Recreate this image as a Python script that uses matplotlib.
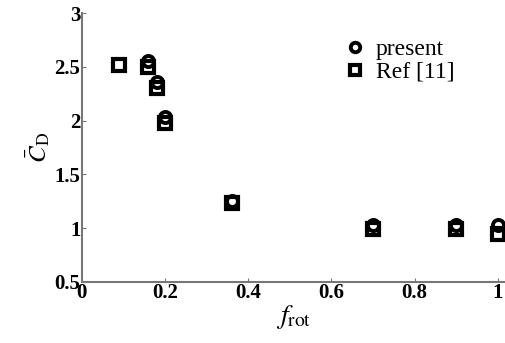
import numpy as np
import matplotlib
matplotlib.use("Agg")
import matplotlib.pyplot as plt

plt.rcParams['font.family'] = ['Liberation Serif', 'DejaVu Serif']
plt.rcParams['mathtext.fontset'] = 'stix'

# data
f_present = [0.16, 0.18, 0.20, 0.36, 0.70, 0.90, 1.00]
cd_present = [2.55, 2.36, 2.03, 1.25, 1.03, 1.03, 1.03]
f_ref = [0.09, 0.16, 0.18, 0.20, 0.36, 0.70, 0.90, 1.00]
cd_ref = [2.52, 2.50, 2.30, 1.98, 1.23, 0.99, 0.99, 0.95]

xticks = [0, 0.2, 0.4, 0.6, 0.8, 1]
xlabels = ['0', '0.2', '0.4', '0.6', '0.8', '1']
yticks = [0.5, 1, 1.5, 2, 2.5, 3]
ylabels = ['0.5', '1', '1.5', '2', '2.5', '3']

fig = plt.figure(figsize=(5.05, 3.43), dpi=100)
ax = fig.add_axes([0.162, 0.178, 0.838, 0.784])

ax.plot(f_present, cd_present, 'o', ms=8, mfc='none', mec='black', mew=2.8,
        label='present', clip_on=False)
ax.plot(f_ref, cd_ref, 's', ms=8, mfc='none', mec='black', mew=3.0,
        label='Ref [11]', clip_on=False)

ax.set_xlim(0, 1.017)
ax.set_ylim(0.5, 3)
ax.set_xticks(xticks)
ax.set_xticklabels(xlabels, fontweight='bold', fontsize=15)
ax.set_yticks(yticks)
ax.set_yticklabels(ylabels, fontweight='bold', fontsize=15)
ax.tick_params(direction='in', length=3, color='#777777', pad=1)

for s in ['top', 'right']:
    ax.spines[s].set_visible(False)
for s in ['left', 'bottom']:
    ax.spines[s].set_color('#777777')
    ax.spines[s].set_linewidth(1.5)

ax.set_xlabel(r'$f_{\mathrm{rot}}$', fontsize=20, labelpad=0)
ax.set_ylabel(r'$\bar{C}_{\mathrm{D}}$', fontsize=18, labelpad=2)

leg = ax.legend(loc='upper left', bbox_to_anchor=(0.595, 0.94), frameon=False,
                fontsize=17, handletextpad=0.4, labelspacing=0.05,
                handlelength=1.0, borderaxespad=0, markerscale=0.85)

fig.savefig('out.png', dpi=100)
